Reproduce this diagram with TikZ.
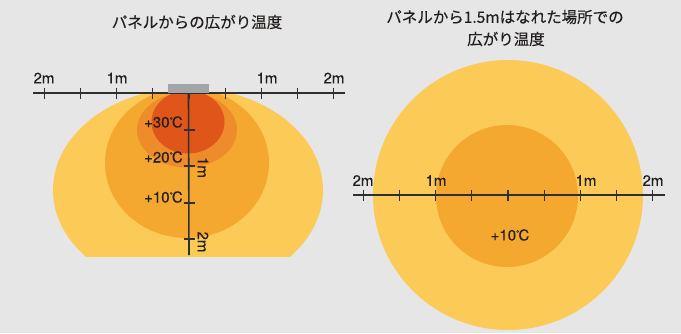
\documentclass[tikz,border=0pt]{standalone}
\usepackage{fontspec}
\setmainfont{TeX Gyre Heros}[FakeBold=0.1]
\newfontfamily\jpfont{Noto Sans CJK JP}[FakeBold=0.3]
\definecolor{bgc}{HTML}{E6E6E6}
\definecolor{cyel}{HTML}{FCCB57}
\definecolor{corg}{HTML}{F5A82F}
\definecolor{cdark}{HTML}{EE8B2A}
\definecolor{cred}{HTML}{E0561A}
\definecolor{cpanel}{HTML}{A3A6A9}
\definecolor{caxis}{HTML}{2F2F2F}
\definecolor{ctext}{HTML}{231F1F}
\newcommand\degC{\raisebox{4.6pt}{\fontsize{8}{8}\selectfont °}\kern-0.8pt C}
\tikzset{
  axisline/.style={draw=caxis, line width=1.6pt},
  tickline/.style={draw=caxis, line width=1.2pt},
  lab/.style={inner sep=0pt, text=ctext, font=\fontsize{15}{15}\selectfont},
  ttl/.style={inner sep=0pt, text=ctext, font=\jpfont\fontsize{15.5}{15.5}\selectfont},
  panelbox/.style={fill=cpanel, inner sep=0pt, minimum width=41pt, minimum height=9pt},
}
\begin{document}
\begin{tikzpicture}[x=1pt,y=-1pt]
\fill[bgc] (0,0) rectangle (681,333);
\useasboundingbox (0,0) rectangle (681,333);

% ---------- titles
\node[ttl] (t1) at (197,22) {パネルからの広がり温度};
\node[ttl] (t2a) at (505,17) {パネルから1.5mはなれた場所での};
\node[ttl] (t2b) at (506,39) {広がり温度};

% ---------- left diagram: heat zones
\begin{scope}
  \clip (0,93) rectangle (360,256);
  \fill[cyel] (188,190) ellipse [x radius=135pt, y radius=102pt];
  \fill[corg] (187,163) ellipse [x radius=82pt, y radius=75pt];
  \fill[cdark] (187,130) ellipse [x radius=50pt, y radius=37.5pt];
  \fill[cred] (188,122) ellipse [x radius=36.5pt, y radius=31.5pt];
\end{scope}

% horizontal axis (left)
\coordinate (hl0) at (33,93);
\coordinate (hl1) at (345,93);
\draw[axisline] (hl0) -- (hl1);
\foreach \k in {-4,...,4}{
  \draw[tickline] ({189+36.2*\k},87.5) -- ({189+36.2*\k},98.5);
}
\node[lab] (lA) at (44,78) {2m};
\node[lab] (lB) at (117,78) {1m};
\node[lab] (lC) at (267,78) {1m};
\node[lab] (lD) at (334,78) {2m};

% panel and vertical axis
\node[panelbox] (panel) at (188.5,88.5) {};
\coordinate (vend) at (189,255);
\draw[axisline] (panel.south) -- (vend);
\foreach \yy in {130,166,203,239}{
  \draw[tickline] (183.5,\yy) -- (194.5,\yy);
}
\node[lab, rotate=-90] (v1) at (203,167.5) {1m};
\node[lab, rotate=-90] (v2) at (203,242) {2m};
\node[lab, anchor=base east] (p30) at (183,127.5) {+30\degC};
\node[lab, anchor=base east] (p20) at (183,162.5) {+20\degC};
\node[lab, anchor=base east] (p10) at (183,202.5) {+10\degC};

% ---------- right diagram
\fill[cyel] (508,195) circle [radius=135pt];
\fill[corg] (507,196) circle [radius=71pt];
\coordinate (hr0) at (353,195);
\coordinate (hr1) at (665,195);
\draw[axisline] (hr0) -- (hr1);
\foreach \k in {-4,...,4}{
  \draw[tickline] ({508+36.2*\k},189.5) -- ({508+36.2*\k},200.5);
}
\node[lab] (rA) at (363,180.5) {2m};
\node[lab] (rB) at (436,180.5) {1m};
\node[lab] (rC) at (586,180.5) {1m};
\node[lab] (rD) at (653,180.5) {2m};
\node[lab] (r10) at (510,235) {+10\degC};
\end{tikzpicture}
\end{document}
